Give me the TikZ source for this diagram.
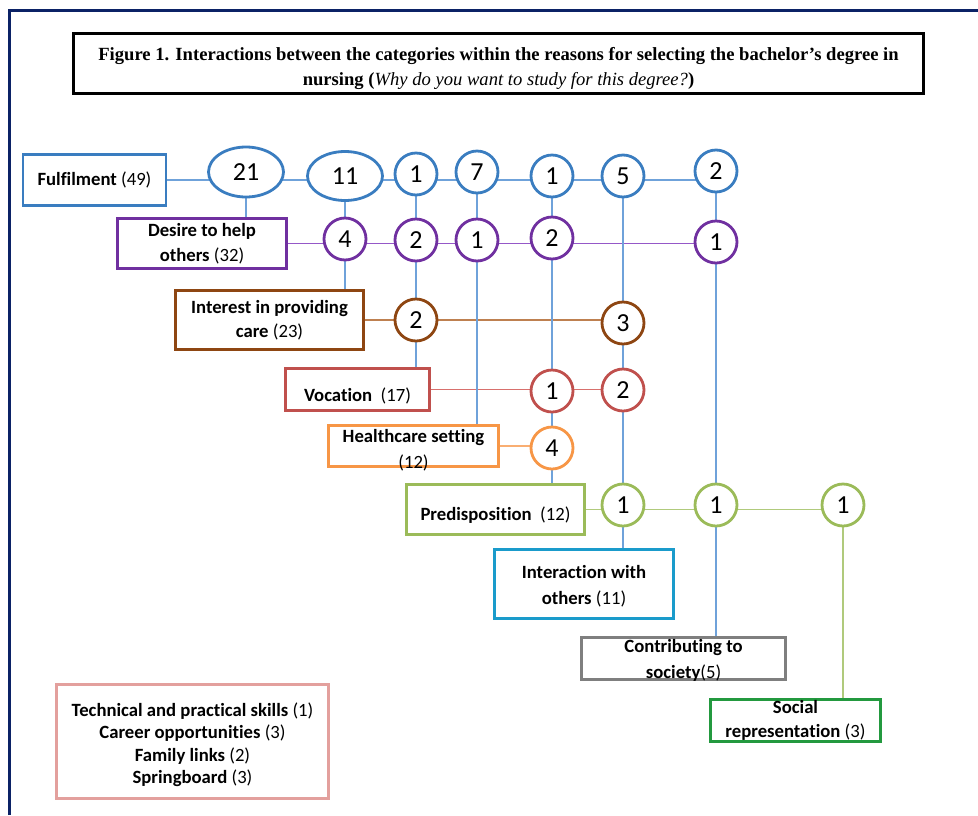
\documentclass[tikz,border=0pt]{standalone}
\usepackage{fontspec}
\setmainfont{Carlito}[Ligatures=NoCommon]
\newfontfamily\titlefont{Liberation Serif}
\usetikzlibrary{shapes.geometric,backgrounds}

\definecolor{framenavy}{HTML}{0B2266}
\definecolor{fulblue}{HTML}{3A7DC0}
\definecolor{lineblue}{HTML}{6FA2DA}
\definecolor{helppurple}{HTML}{7030A0}
\definecolor{linepurple}{HTML}{9558C8}
\definecolor{carebrown}{HTML}{8E4612}
\definecolor{linebrown}{HTML}{BE8050}
\definecolor{vocred}{HTML}{C0504D}
\definecolor{linered}{HTML}{D8706D}
\definecolor{hcorange}{HTML}{F79646}
\definecolor{lineorange}{HTML}{F9AE72}
\definecolor{predgreen}{HTML}{9BBB59}
\definecolor{linegreen}{HTML}{B0CA7C}
\definecolor{intcyan}{HTML}{1A9BCB}
\definecolor{contgray}{HTML}{7F7F7F}
\definecolor{socgreen}{HTML}{23993F}
\definecolor{otherpink}{HTML}{E3A09D}

\begin{document}
\begin{tikzpicture}[x=1pt,y=-1pt,
    box/.style={draw=#1, line width=2.8pt, fill=white, text=black, inner sep=0pt, align=center,
      font=\fontsize{18.7}{24.5}\selectfont},
    lbl/.style={text=black, inner sep=0pt, align=center, font=\fontsize{18.7}{25.5}\selectfont},
    num/.style={circle, draw=#1, line width=2.8pt, fill=white, text=black, minimum size=42pt,
      inner sep=0pt, font=\fontsize{26}{26}\selectfont},
    oval/.style={ellipse, draw=#1, line width=2.8pt, fill=white, text=black, minimum width=75pt,
      minimum height=50pt, inner sep=0pt, font=\fontsize{26}{26}\selectfont},
    link/.style={line width=1.5pt}]
  \useasboundingbox (0,0) rectangle (978,815);
  \draw[framenavy, line width=3pt] (9,815) -- (9,10) -- (978,10);

  \node[draw, line width=3pt, minimum width=850pt, minimum height=60pt, inner sep=0pt, align=center,
    font=\titlefont\bfseries\fontsize{18.6}{25}\selectfont] (title) at (498.5,63.5)
    {\rule{0pt}{23pt}Figure 1. Interactions between the categories within the reasons for selecting the bachelor’s degree in\\
     nursing ({\mdseries\itshape Why do you want to study for this degree?})};

  % categories
  \node[box=fulblue, minimum width=143pt, minimum height=51pt] (ful) at (94.5,180) {\textbf{Fulfilment} (49)};
  \node[box=helppurple, minimum width=169pt, minimum height=50pt] (help) at (202,243.5) {\textbf{Desire to help}\\\textbf{others} (32)};
  \node[box=carebrown, minimum width=188pt, minimum height=59pt] (care) at (269.5,320) {\textbf{Interest in providing}\\\textbf{care} (23)};
  \node[box=vocred, minimum width=144pt, minimum height=42pt,
    label={[lbl, yshift=-6pt]center:{\textbf{Vocation}\ \ (17)}}] (voc) at (357.5,389.5) {};
  \node[box=hcorange, minimum width=170pt, minimum height=41pt,
    label={[lbl, yshift=-4pt]center:{\textbf{Healthcare setting}\\(12)}}] (hc) at (413.5,446) {};
  \node[box=predgreen, minimum width=178pt, minimum height=50pt,
    label={[lbl, yshift=-6pt]center:{\textbf{Predisposition}\ \ (12)}}] (pred) at (495.5,509.5) {};
  \node[box=intcyan, minimum width=179pt, minimum height=69pt,
    label={[lbl, yshift=-2pt]center:{\textbf{Interaction with}\\\textbf{others} (11)}}] (int) at (584,584) {};
  \node[box=contgray, minimum width=204pt, minimum height=42pt,
    label={[lbl, yshift=-2pt]center:{\textbf{Contributing to}\\\textbf{society}(5)}}] (cont) at (683.5,658.5) {};
  \node[box=socgreen, minimum width=170pt, minimum height=42pt,
    label={[lbl, font=\fontsize{18.7}{23.5}\selectfont]center:{\textbf{Social}\\\textbf{representation} (3)}}] (soc) at (795.5,720.5) {};
  \node[box=otherpink, line width=2.5pt, minimum width=272pt, minimum height=114pt,
    font=\fontsize{18.7}{22.6}\selectfont] (other) at (192.5,741.5)
    {\rule{0pt}{20pt}\textbf{Technical and practical skills} (1)\\\textbf{Career opportunities} (3)\\\textbf{Family links} (2)\\\textbf{Springboard} (3)};

  % counts
  \node[oval=fulblue] (t21) at (246,172) {21};
  \node[oval=fulblue, minimum height=49pt] (t11) at (345,176) {11};
  \node[num=fulblue] (ta) at (416,174) {1};
  \node[num=fulblue] (tb) at (477,172) {7};
  \node[num=fulblue] (tc) at (552,176) {1};
  \node[num=fulblue] (td) at (623,176) {5};
  \node[num=fulblue] (te) at (716,171) {2};

  \node[num=helppurple] (pa) at (345,239) {4};
  \node[num=helppurple] (pb) at (416,240) {2};
  \node[num=helppurple] (pc) at (477,240) {1};
  \node[num=helppurple] (pd) at (552,238) {2};
  \node[num=helppurple] (pe) at (716,242) {1};

  \node[num=carebrown] (ba) at (416,320) {2};
  \node[num=carebrown] (bb) at (623,323) {3};

  \node[num=vocred] (ra) at (552,391) {1};
  \node[num=vocred] (rb) at (623,390) {2};

  \node[num=hcorange] (oa) at (552,448) {4};

  \node[num=predgreen] (ga) at (623,505) {1};
  \node[num=predgreen] (gb) at (716,505) {1};
  \node[num=predgreen] (gc) at (843,505) {1};

  \begin{scope}[on background layer]
    \draw[link, lineblue] (ful.east) -- (ful.east -| te.center);
    \draw[link, linepurple] (help.east) -- (help.east -| pe.center);
    \draw[link, linebrown] (care.east) -- (care.east -| bb.center);
    \draw[link, linered] (voc.east) -- (voc.east -| rb.center);
    \draw[link, lineorange] (hc.east) -- (hc.east -| oa.center);
    \draw[link, linegreen] (pred.east) -- (pred.east -| gc.center);

    \draw[link, lineblue] (t21) -- (t21 |- help);
    \draw[link, lineblue] (t11) -- (t11 |- care);
    \draw[link, lineblue] (ta) -- (ta |- voc);
    \draw[link, lineblue] (tb) -- (tb |- hc);
    \draw[link, lineblue] (tc) -- (tc |- pred);
    \draw[link, lineblue] (td) -- (td |- int);
    \draw[link, lineblue] (te) -- (te |- cont);
    \draw[link, linegreen] (gc) -- (gc |- soc);
  \end{scope}
\end{tikzpicture}
\end{document}
